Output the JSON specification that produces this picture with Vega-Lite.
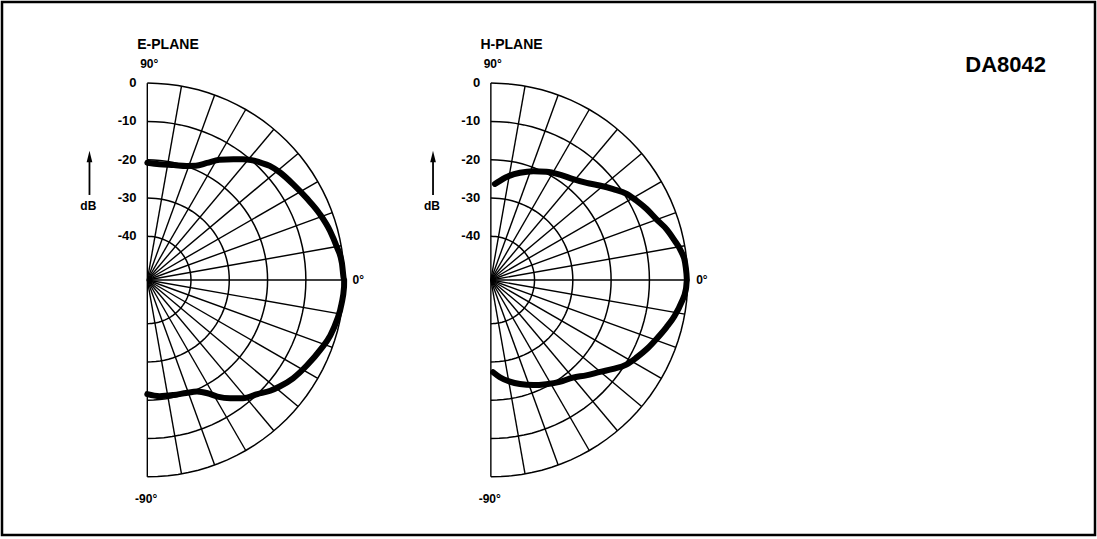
{
  "$schema": "https://vega.github.io/schema/vega-lite/v6.json",
  "width": 1097,
  "height": 539,
  "autosize": {"type": "fit", "contains": "padding"},
  "padding": {"left": 2, "top": 2, "right": 2, "bottom": 4},
  "background": "white",
  "config": {
    "view": {"stroke": "black", "strokeWidth": 2.5},
    "text": {"font": "Liberation Sans", "color": "black", "fontWeight": "bold"},
    "font": "Liberation Sans"
  },
  "datasets": {
    "planes": [{"plane": "E-PLANE"}, {"plane": "H-PLANE"}],
    "grid": [
      {"plane": "E-PLANE", "rings": [0, -10, -20, -30, -40], "angles": [-90,-87,-84,-81,-78,-75,-72,-69,-66,-63,-60,-57,-54,-51,-48,-45,-42,-39,-36,-33,-30,-27,-24,-21,-18,-15,-12,-9,-6,-3,0,3,6,9,12,15,18,21,24,27,30,33,36,39,42,45,48,51,54,57,60,63,66,69,72,75,78,81,84,87,90]},
      {"plane": "H-PLANE", "rings": [0, -10, -20, -30, -40], "angles": [-90,-87,-84,-81,-78,-75,-72,-69,-66,-63,-60,-57,-54,-51,-48,-45,-42,-39,-36,-33,-30,-27,-24,-21,-18,-15,-12,-9,-6,-3,0,3,6,9,12,15,18,21,24,27,30,33,36,39,42,45,48,51,54,57,60,63,66,69,72,75,78,81,84,87,90]}
    ],
    "rings": [
      {"plane": "E-PLANE", "dB": 0}, {"plane": "E-PLANE", "dB": -10}, {"plane": "E-PLANE", "dB": -20}, {"plane": "E-PLANE", "dB": -30}, {"plane": "E-PLANE", "dB": -40},
      {"plane": "H-PLANE", "dB": 0}, {"plane": "H-PLANE", "dB": -10}, {"plane": "H-PLANE", "dB": -20}, {"plane": "H-PLANE", "dB": -30}, {"plane": "H-PLANE", "dB": -40}
    ],
    "spokes": [
      {"plane": "E-PLANE", "angles": [-90, -80, -70, -60, -50, -40, -30, -20, -10, 0, 10, 20, 30, 40, 50, 60, 70, 80, 90]},
      {"plane": "H-PLANE", "angles": [-90, -80, -70, -60, -50, -40, -30, -20, -10, 0, 10, 20, 30, 40, 50, 60, 70, 80, 90]}
    ],
    "pattern": [
      {"plane": "E-PLANE", "angle": -90, "dB": -21.6},
      {"plane": "E-PLANE", "angle": -84, "dB": -20.9},
      {"plane": "E-PLANE", "angle": -77, "dB": -20.6},
      {"plane": "E-PLANE", "angle": -71, "dB": -20.2},
      {"plane": "E-PLANE", "angle": -66, "dB": -19.5},
      {"plane": "E-PLANE", "angle": -62, "dB": -17.9},
      {"plane": "E-PLANE", "angle": -59, "dB": -15.9},
      {"plane": "E-PLANE", "angle": -55, "dB": -13.7},
      {"plane": "E-PLANE", "angle": -51, "dB": -11.7},
      {"plane": "E-PLANE", "angle": -46, "dB": -10.0},
      {"plane": "E-PLANE", "angle": -42, "dB": -8.2},
      {"plane": "E-PLANE", "angle": -39, "dB": -7.1},
      {"plane": "E-PLANE", "angle": -34, "dB": -5.5},
      {"plane": "E-PLANE", "angle": -28, "dB": -4.1},
      {"plane": "E-PLANE", "angle": -22, "dB": -2.7},
      {"plane": "E-PLANE", "angle": -17, "dB": -1.5},
      {"plane": "E-PLANE", "angle": -12, "dB": -0.8},
      {"plane": "E-PLANE", "angle": -7, "dB": -0.3},
      {"plane": "E-PLANE", "angle": -2, "dB": 0},
      {"plane": "E-PLANE", "angle": 0, "dB": 0},
      {"plane": "E-PLANE", "angle": 5, "dB": -0.4},
      {"plane": "E-PLANE", "angle": 10, "dB": -1.2},
      {"plane": "E-PLANE", "angle": 15, "dB": -2.0},
      {"plane": "E-PLANE", "angle": 21, "dB": -3.2},
      {"plane": "E-PLANE", "angle": 27, "dB": -4.6},
      {"plane": "E-PLANE", "angle": 33, "dB": -5.8},
      {"plane": "E-PLANE", "angle": 39, "dB": -6.8},
      {"plane": "E-PLANE", "angle": 43, "dB": -7.7},
      {"plane": "E-PLANE", "angle": 46, "dB": -8.8},
      {"plane": "E-PLANE", "angle": 50.5, "dB": -10.6},
      {"plane": "E-PLANE", "angle": 54.5, "dB": -12.7},
      {"plane": "E-PLANE", "angle": 59, "dB": -14.8},
      {"plane": "E-PLANE", "angle": 63, "dB": -17.1},
      {"plane": "E-PLANE", "angle": 67, "dB": -19.0},
      {"plane": "E-PLANE", "angle": 71, "dB": -19.9},
      {"plane": "E-PLANE", "angle": 77, "dB": -20.6},
      {"plane": "E-PLANE", "angle": 84, "dB": -21.0},
      {"plane": "E-PLANE", "angle": 90, "dB": -20.8},
      {"plane": "H-PLANE", "angle": -88.6, "dB": -27.3},
      {"plane": "H-PLANE", "angle": -84.7, "dB": -25.9},
      {"plane": "H-PLANE", "angle": -79.4, "dB": -24.4},
      {"plane": "H-PLANE", "angle": -74.4, "dB": -23.2},
      {"plane": "H-PLANE", "angle": -68, "dB": -21.8},
      {"plane": "H-PLANE", "angle": -62, "dB": -20.6},
      {"plane": "H-PLANE", "angle": -56, "dB": -19.3},
      {"plane": "H-PLANE", "angle": -50, "dB": -18.1},
      {"plane": "H-PLANE", "angle": -45, "dB": -16.2},
      {"plane": "H-PLANE", "angle": -40, "dB": -14.1},
      {"plane": "H-PLANE", "angle": -36, "dB": -11.9},
      {"plane": "H-PLANE", "angle": -32, "dB": -9.7},
      {"plane": "H-PLANE", "angle": -28, "dB": -8.3},
      {"plane": "H-PLANE", "angle": -24, "dB": -6.9},
      {"plane": "H-PLANE", "angle": -19.6, "dB": -5.5},
      {"plane": "H-PLANE", "angle": -15, "dB": -3.9},
      {"plane": "H-PLANE", "angle": -11, "dB": -2.5},
      {"plane": "H-PLANE", "angle": -6.7, "dB": -1.3},
      {"plane": "H-PLANE", "angle": -2.6, "dB": -0.4},
      {"plane": "H-PLANE", "angle": 0, "dB": -0.2},
      {"plane": "H-PLANE", "angle": 1.8, "dB": -0.3},
      {"plane": "H-PLANE", "angle": 5.2, "dB": -0.5},
      {"plane": "H-PLANE", "angle": 8.3, "dB": -1.1},
      {"plane": "H-PLANE", "angle": 12, "dB": -2.3},
      {"plane": "H-PLANE", "angle": 16, "dB": -3.6},
      {"plane": "H-PLANE", "angle": 20, "dB": -5.3},
      {"plane": "H-PLANE", "angle": 24.5, "dB": -6.7},
      {"plane": "H-PLANE", "angle": 28.6, "dB": -8.1},
      {"plane": "H-PLANE", "angle": 32.4, "dB": -9.4},
      {"plane": "H-PLANE", "angle": 36.6, "dB": -11.6},
      {"plane": "H-PLANE", "angle": 41, "dB": -13.8},
      {"plane": "H-PLANE", "angle": 45.4, "dB": -15.8},
      {"plane": "H-PLANE", "angle": 50.8, "dB": -17.4},
      {"plane": "H-PLANE", "angle": 56.8, "dB": -18.5},
      {"plane": "H-PLANE", "angle": 62.8, "dB": -19.6},
      {"plane": "H-PLANE", "angle": 68.7, "dB": -20.9},
      {"plane": "H-PLANE", "angle": 74.8, "dB": -22.4},
      {"plane": "H-PLANE", "angle": 79.7, "dB": -23.7},
      {"plane": "H-PLANE", "angle": 84.8, "dB": -25.4},
      {"plane": "H-PLANE", "angle": 87.6, "dB": -26.3}
    ],
    "code": [{"label": "DA8042"}]
  },
  "layer": [
    {
      "data": {"name": "grid"},
      "transform": [
        {"flatten": ["rings"], "as": ["dB"]},
        {"flatten": ["angles"], "as": ["angle"]},
        {"calculate": "datum.plane + ' ' + datum.dB", "as": "ring"},
        {"calculate": "datum.plane == 'H-PLANE' ? 89.7 : 0", "as": "cx"},
        {"calculate": "datum.cx + (datum.dB + 51.4) * cos(datum.angle * PI / 180)", "as": "gx"},
        {"calculate": "(datum.dB + 51.4) * sin(datum.angle * PI / 180)", "as": "gy"}
      ],
      "mark": {"type": "line", "color": "black", "strokeWidth": 1.5},
      "encoding": {
        "x": {"field": "gx", "type": "quantitative", "scale": {"domain": [-37.94, 247.44], "nice": false, "zero": false}, "axis": null},
        "y": {"field": "gy", "type": "quantitative", "scale": {"domain": [-66.58, 72.58], "nice": false, "zero": false}, "axis": null},
        "order": {"field": "angle", "type": "quantitative"},
        "detail": {"field": "ring", "type": "nominal"}
      }
    },
    {
      "data": {"name": "spokes"},
      "transform": [
        {"flatten": ["angles"], "as": ["angle"]},
        {"calculate": "datum.plane == 'H-PLANE' ? 89.7 : 0", "as": "cx"},
        {"calculate": "0", "as": "cy"},
        {"calculate": "datum.cx + 51.4 * cos(datum.angle * PI / 180)", "as": "xe"},
        {"calculate": "51.4 * sin(datum.angle * PI / 180)", "as": "ye"}
      ],
      "mark": {"type": "rule", "color": "black", "strokeWidth": 1.4},
      "encoding": {
        "x": {"field": "cx", "type": "quantitative", "scale": {"domain": [-37.94, 247.44], "nice": false, "zero": false}, "axis": null},
        "y": {"field": "cy", "type": "quantitative", "scale": {"domain": [-66.58, 72.58], "nice": false, "zero": false}, "axis": null},
        "x2": {"field": "xe"},
        "y2": {"field": "ye"}
      }
    },
    {
      "data": {"name": "pattern"},
      "transform": [
        {"calculate": "datum.plane == 'H-PLANE' ? 89.7 : 0", "as": "cx"},
        {"calculate": "datum.cx + (datum.dB + 51.4) * cos(datum.angle * PI / 180)", "as": "px"},
        {"calculate": "(datum.dB + 51.4) * sin(datum.angle * PI / 180)", "as": "py"}
      ],
      "mark": {"type": "line", "color": "black", "strokeWidth": 6, "strokeCap": "round", "strokeJoin": "round", "interpolate": "monotone"},
      "encoding": {
        "x": {"field": "px", "type": "quantitative", "scale": {"domain": [-37.94, 247.44], "nice": false, "zero": false}, "axis": null},
        "y": {"field": "py", "type": "quantitative", "scale": {"domain": [-66.58, 72.58], "nice": false, "zero": false}, "axis": null},
        "order": {"field": "angle", "type": "quantitative"},
        "detail": {"field": "plane", "type": "nominal"}
      }
    },
    {
      "data": {"name": "rings"},
      "transform": [
        {"calculate": "datum.plane == 'H-PLANE' ? 89.7 : 0", "as": "cx"},
        {"calculate": "datum.cx - 2.8", "as": "tx"},
        {"calculate": "datum.dB + 51.4", "as": "ty"},
        {"calculate": "'' + datum.dB", "as": "lab"}
      ],
      "mark": {"type": "text", "align": "right", "baseline": "middle", "fontSize": 13, "fontWeight": "bold", "color": "black"},
      "encoding": {
        "x": {"field": "tx", "type": "quantitative", "scale": {"domain": [-37.94, 247.44], "nice": false, "zero": false}, "axis": null},
        "y": {"field": "ty", "type": "quantitative", "scale": {"domain": [-66.58, 72.58], "nice": false, "zero": false}, "axis": null},
        "text": {"field": "lab", "type": "nominal"}
      }
    },
    {
      "data": {"name": "planes"},
      "transform": [
        {"calculate": "datum.plane == 'H-PLANE' ? 89.7 : 0", "as": "cx"},
        {"calculate": "datum.cx + 5.4", "as": "tx"},
        {"calculate": "60.3", "as": "ty"}
      ],
      "mark": {"type": "text", "align": "center", "baseline": "alphabetic", "fontSize": 14, "fontWeight": "bold", "color": "black"},
      "encoding": {
        "x": {"field": "tx", "type": "quantitative", "scale": {"domain": [-37.94, 247.44], "nice": false, "zero": false}, "axis": null},
        "y": {"field": "ty", "type": "quantitative", "scale": {"domain": [-66.58, 72.58], "nice": false, "zero": false}, "axis": null},
        "text": {"field": "plane", "type": "nominal"}
      }
    },
    {
      "data": {"name": "planes"},
      "transform": [
        {"calculate": "datum.plane == 'H-PLANE' ? 89.7 : 0", "as": "cx"},
        {"calculate": "datum.cx + 0.5", "as": "tx"},
        {"calculate": "55.35", "as": "ty"}
      ],
      "mark": {"type": "text", "align": "center", "baseline": "alphabetic", "fontSize": 12, "fontWeight": "bold", "color": "black", "text": "90°"},
      "encoding": {
        "x": {"field": "tx", "type": "quantitative", "scale": {"domain": [-37.94, 247.44], "nice": false, "zero": false}, "axis": null},
        "y": {"field": "ty", "type": "quantitative", "scale": {"domain": [-66.58, 72.58], "nice": false, "zero": false}, "axis": null}
      }
    },
    {
      "data": {"name": "planes"},
      "transform": [
        {"calculate": "datum.plane == 'H-PLANE' ? 89.7 : 0", "as": "cx"},
        {"calculate": "datum.cx - 0.3", "as": "tx"},
        {"calculate": "-58.2", "as": "ty"}
      ],
      "mark": {"type": "text", "align": "center", "baseline": "alphabetic", "fontSize": 12, "fontWeight": "bold", "color": "black", "text": "-90°"},
      "encoding": {
        "x": {"field": "tx", "type": "quantitative", "scale": {"domain": [-37.94, 247.44], "nice": false, "zero": false}, "axis": null},
        "y": {"field": "ty", "type": "quantitative", "scale": {"domain": [-66.58, 72.58], "nice": false, "zero": false}, "axis": null}
      }
    },
    {
      "data": {"name": "planes"},
      "transform": [
        {"calculate": "datum.plane == 'H-PLANE' ? 89.7 : 0", "as": "cx"},
        {"calculate": "datum.cx + 53.6", "as": "tx"},
        {"calculate": "0", "as": "ty"}
      ],
      "mark": {"type": "text", "align": "left", "baseline": "middle", "fontSize": 12, "fontWeight": "bold", "color": "black", "text": "0°"},
      "encoding": {
        "x": {"field": "tx", "type": "quantitative", "scale": {"domain": [-37.94, 247.44], "nice": false, "zero": false}, "axis": null},
        "y": {"field": "ty", "type": "quantitative", "scale": {"domain": [-66.58, 72.58], "nice": false, "zero": false}, "axis": null}
      }
    },
    {
      "data": {"name": "planes"},
      "transform": [
        {"calculate": "datum.plane == 'H-PLANE' ? 89.7 : 0", "as": "cx"},
        {"calculate": "datum.cx - 15.4", "as": "tx"},
        {"calculate": "19.2", "as": "ty"}
      ],
      "mark": {"type": "text", "align": "center", "baseline": "middle", "fontSize": 12, "fontWeight": "bold", "color": "black", "text": "dB"},
      "encoding": {
        "x": {"field": "tx", "type": "quantitative", "scale": {"domain": [-37.94, 247.44], "nice": false, "zero": false}, "axis": null},
        "y": {"field": "ty", "type": "quantitative", "scale": {"domain": [-66.58, 72.58], "nice": false, "zero": false}, "axis": null}
      }
    },
    {
      "data": {"name": "planes"},
      "transform": [
        {"calculate": "datum.plane == 'H-PLANE' ? 89.7 : 0", "as": "cx"},
        {"calculate": "datum.cx - 15.1", "as": "tx"},
        {"calculate": "22.2", "as": "ty"},
        {"calculate": "31.0", "as": "ty2"}
      ],
      "mark": {"type": "rule", "color": "black", "strokeWidth": 1.8},
      "encoding": {
        "x": {"field": "tx", "type": "quantitative", "scale": {"domain": [-37.94, 247.44], "nice": false, "zero": false}, "axis": null},
        "y": {"field": "ty", "type": "quantitative", "scale": {"domain": [-66.58, 72.58], "nice": false, "zero": false}, "axis": null},
        "y2": {"field": "ty2"}
      }
    },
    {
      "data": {"name": "planes"},
      "transform": [
        {"calculate": "datum.plane == 'H-PLANE' ? 89.7 : 0", "as": "cx"},
        {"calculate": "datum.cx - 15.1", "as": "tx"},
        {"calculate": "32.0", "as": "ty"}
      ],
      "mark": {"type": "point", "shape": "M-0.6,1 L0,-1.4 L0.6,1 Z", "filled": true, "color": "black", "size": 90, "opacity": 1},
      "encoding": {
        "x": {"field": "tx", "type": "quantitative", "scale": {"domain": [-37.94, 247.44], "nice": false, "zero": false}, "axis": null},
        "y": {"field": "ty", "type": "quantitative", "scale": {"domain": [-66.58, 72.58], "nice": false, "zero": false}, "axis": null}
      }
    },
    {
      "data": {"name": "code"},
      "transform": [
        {"calculate": "224.1", "as": "tx"},
        {"calculate": "54.4", "as": "ty"}
      ],
      "mark": {"type": "text", "align": "center", "baseline": "alphabetic", "fontSize": 22, "fontWeight": "bold", "color": "black"},
      "encoding": {
        "x": {"field": "tx", "type": "quantitative", "scale": {"domain": [-37.94, 247.44], "nice": false, "zero": false}, "axis": null},
        "y": {"field": "ty", "type": "quantitative", "scale": {"domain": [-66.58, 72.58], "nice": false, "zero": false}, "axis": null},
        "text": {"field": "label", "type": "nominal"}
      }
    }
  ]
}
